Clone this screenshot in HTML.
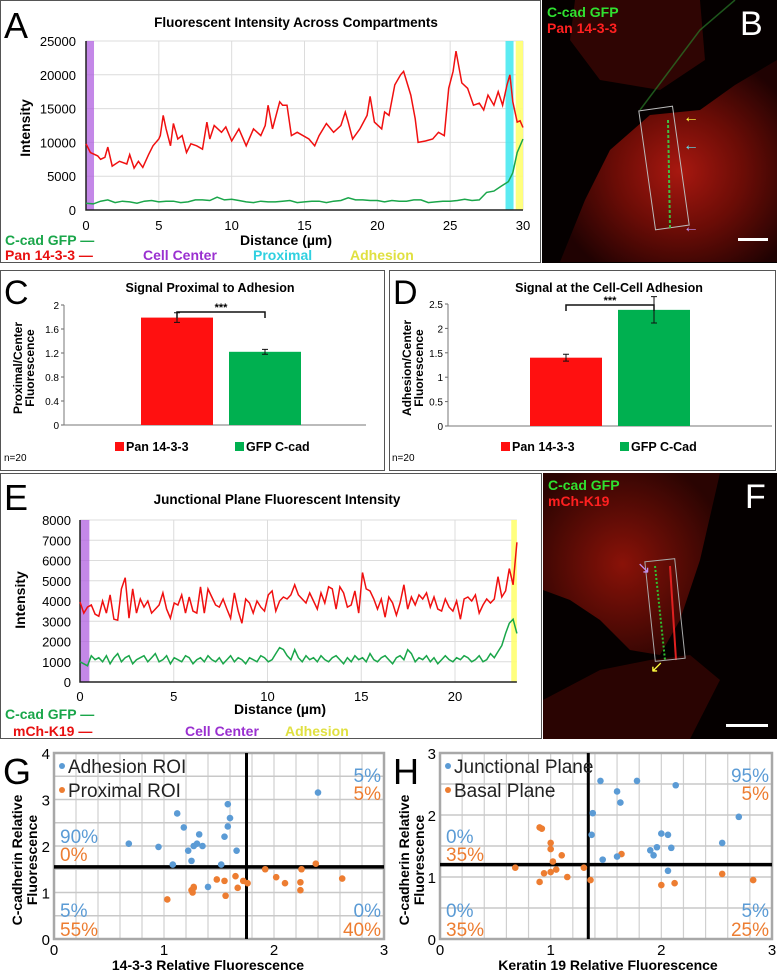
<!DOCTYPE html>
<html><head><meta charset="utf-8"><style>
html,body{margin:0;padding:0;background:#fff}
svg{display:block;font-family:"Liberation Sans",Arial,sans-serif}
.t{font-weight:bold}
</style></head><body>
<svg id="fig" width="777" height="973" viewBox="0 0 777 973" xmlns="http://www.w3.org/2000/svg">
<defs>
<radialGradient id="gB" cx="55%" cy="55%" r="60%"><stop offset="0" stop-color="#a81810"/><stop offset="0.5" stop-color="#6a0c06"/><stop offset="1" stop-color="#200202"/></radialGradient>
<radialGradient id="gF" cx="45%" cy="50%" r="60%"><stop offset="0" stop-color="#8a1208"/><stop offset="1" stop-color="#2a0402"/></radialGradient>
</defs>
<!-- Panel A -->
<rect x="0.5" y="0.5" width="540" height="262" fill="#fff" stroke="#555"/>
<text x="4" y="38" font-size="36">A</text>
<text x="296" y="27" font-size="13.5" class="t" text-anchor="middle">Fluorescent Intensity Across Compartments</text>
<g id="gA"></g>
<text transform="translate(30,128) rotate(-90)" font-size="14" class="t" text-anchor="middle">Intensity</text>
<text x="286" y="245" font-size="14" class="t" text-anchor="middle">Distance (µm)</text>
<text x="5" y="245" font-size="14" class="t" fill="#1aa64a">C-cad GFP —</text>
<text x="5" y="260" font-size="14" class="t" fill="#e81010">Pan 14-3-3 —</text>
<text x="143" y="260" font-size="14" class="t" fill="#9a30d0">Cell Center</text>
<text x="253" y="260" font-size="14" class="t" fill="#30d0e0">Proximal</text>
<text x="350" y="260" font-size="14" class="t" fill="#e0e040">Adhesion</text>
<!-- Panel B -->
<g>
<rect x="542" y="0" width="235" height="263" fill="#050000"/>
<path d="M560,262 L585,200 L610,150 L650,115 L700,110 L735,85 L777,60 L777,262 Z" fill="url(#gB)"/>
<path d="M575,0 L700,0 L705,60 L660,90 L600,80 L570,40 Z" fill="#3a0604" opacity="0.8"/>
<path d="M640,110 L700,30 L735,0" stroke="#2a7a28" stroke-width="1.5" fill="none" opacity="0.7"/>
<rect x="647" y="108" width="34" height="120" fill="none" stroke="#bbb" stroke-width="1" transform="rotate(-8 664 168)"/>
<path d="M668,120 L670,228" stroke="#40c040" stroke-width="2" stroke-dasharray="3,2"/>
<text x="547" y="17" font-size="14" class="t" fill="#30e030">C-cad GFP</text>
<text x="547" y="33" font-size="14" class="t" fill="#ff2020">Pan 14-3-3</text>
<text x="740" y="35" font-size="34" fill="#fff">B</text>
<text x="683" y="122" font-size="16" fill="#ffff40">←</text>
<text x="683" y="150" font-size="16" fill="#60e0f0">←</text>
<text x="683" y="232" font-size="16" fill="#c090f0">←</text>
<rect x="738" y="238" width="30" height="3" fill="#fff"/>
</g>
<!-- Panel C -->
<rect x="0.5" y="270.5" width="384" height="200" fill="#fff" stroke="#555"/>
<text x="4" y="304" font-size="34">C</text>
<text x="210" y="292" font-size="12.5" class="t" text-anchor="middle">Signal Proximal to Adhesion</text>
<g id="gC"></g>
<text transform="translate(22,368) rotate(-90)" font-size="12" class="t" text-anchor="middle">Proximal/Center</text>
<text transform="translate(34,368) rotate(-90)" font-size="12" class="t" text-anchor="middle">Fluorescence</text>
<rect x="115" y="442" width="9" height="9" fill="#ff1010"/>
<text x="126" y="451" font-size="12.5" class="t">Pan 14-3-3</text>
<rect x="235" y="442" width="9" height="9" fill="#00b050"/>
<text x="246" y="451" font-size="12.5" class="t">GFP C-cad</text>
<text x="4" y="461" font-size="10">n=20</text>
<!-- Panel D -->
<rect x="389.5" y="270.5" width="386" height="200" fill="#fff" stroke="#555"/>
<text x="393" y="304" font-size="34">D</text>
<text x="609" y="292" font-size="12.5" class="t" text-anchor="middle">Signal at the Cell-Cell Adhesion</text>
<g id="gD"></g>
<text transform="translate(411,368) rotate(-90)" font-size="12" class="t" text-anchor="middle">Adhesion/Center</text>
<text transform="translate(423,368) rotate(-90)" font-size="12" class="t" text-anchor="middle">Fluorescence</text>
<rect x="501" y="442" width="9" height="9" fill="#ff1010"/>
<text x="512" y="451" font-size="12.5" class="t">Pan 14-3-3</text>
<rect x="620" y="442" width="9" height="9" fill="#00b050"/>
<text x="631" y="451" font-size="12.5" class="t">GFP C-Cad</text>
<text x="392" y="461" font-size="10">n=20</text>
<!-- Panel E -->
<rect x="0.5" y="473.5" width="541" height="265" fill="#fff" stroke="#555"/>
<text x="4" y="510" font-size="36">E</text>
<text x="277" y="504" font-size="13.5" class="t" text-anchor="middle">Junctional Plane Fluorescent Intensity</text>
<g id="gE"></g>
<text transform="translate(25,600) rotate(-90)" font-size="14" class="t" text-anchor="middle">Intensity</text>
<text x="280" y="714" font-size="14" class="t" text-anchor="middle">Distance (µm)</text>
<text x="5" y="719" font-size="14" class="t" fill="#1aa64a">C-cad GFP —</text>
<text x="13" y="736" font-size="14" class="t" fill="#e81010">mCh-K19 —</text>
<text x="185" y="736" font-size="14" class="t" fill="#9a30d0">Cell Center</text>
<text x="285" y="736" font-size="14" class="t" fill="#e0e040">Adhesion</text>
<!-- Panel F -->
<g>
<rect x="543" y="473" width="234" height="266" fill="#050000"/>
<path d="M543,473 L720,473 L700,560 L680,620 L660,655 L630,650 L600,620 L570,600 L543,590 Z" fill="url(#gF)"/>
<path d="M543,700 L600,670 L650,660 L690,655 L720,680 L690,739 L543,739 Z" fill="#2a0402"/>
<path d="M655,566 L665,660" stroke="#30c030" stroke-width="2" stroke-dasharray="2,2"/>
<path d="M670,566 L676,660" stroke="#e02020" stroke-width="2"/>
<rect x="650" y="560" width="30" height="100" fill="none" stroke="#aaa" transform="rotate(-6 665 610)"/>
<text x="548" y="490" font-size="14" class="t" fill="#30e030">C-cad GFP</text>
<text x="548" y="506" font-size="14" class="t" fill="#ff2020">mCh-K19</text>
<text x="745" y="508" font-size="34" fill="#fff">F</text>
<text x="637" y="573" font-size="16" fill="#c090f0">↘</text>
<text x="650" y="672" font-size="16" fill="#ffff40">↙</text>
<rect x="726" y="724" width="42" height="3" fill="#fff"/>
</g>
<!-- Panel G -->
<text x="3" y="784" font-size="36">G</text>
<g id="gG"></g>
<text transform="translate(22,860) rotate(-90)" font-size="14" class="t" text-anchor="middle">C-cadherin Relative</text>
<text transform="translate(37,860) rotate(-90)" font-size="14" class="t" text-anchor="middle">Fluorescence</text>
<text x="208" y="970" font-size="14" class="t" text-anchor="middle">14-3-3 Relative Fluorescence</text>
<!-- Panel H -->
<text x="393" y="784" font-size="36">H</text>
<g id="gH"></g>
<text transform="translate(409,860) rotate(-90)" font-size="14" class="t" text-anchor="middle">C-cadherin Relative</text>
<text transform="translate(424,860) rotate(-90)" font-size="14" class="t" text-anchor="middle">Fluorescence</text>
<text x="608" y="970" font-size="14" class="t" text-anchor="middle">Keratin 19 Relative Fluorescence</text>
</svg>
<script>
// ---- Panel A data ----
const aRedX = [0,0.3,0.8,1,1.3,1.5,1.8,2.3,2.8,3,3.3,3.6,3.9,4.3,4.6,5,5.1,5.3,5.5,5.8,6,6.3,6.6,6.9,7.2,7.6,8,8.3,8.5,8.8,9.3,9.6,10,10.5,11,11.5,12,12.3,12.5,12.8,13.3,13.5,13.8,14.1,14.5,15.3,15.7,16,16.5,17,17.5,17.8,18,18.3,18.8,19.3,19.5,19.8,20.3,20.5,20.8,21.2,21.6,21.8,22.3,22.6,22.8,23.3,23.8,24.2,24.6,24.9,25.2,25.4,25.8,26.2,26.6,27,27.3,27.6,28,28.3,28.6,28.9,29.1,29.3,29.6,29.8,30];
const aRedY = [9800,8500,8000,7500,7800,9300,6500,7200,6800,8200,6200,7200,6300,8200,9500,10500,11000,14000,12000,9500,12800,10500,11000,8500,9800,9500,9000,13000,10500,12500,11500,12300,10200,12000,9500,12000,11000,12500,15500,12000,16000,15500,15500,11000,11500,10500,9500,11000,12800,11500,12500,14500,13000,10500,12000,14000,16800,13000,12000,14500,14000,18500,20000,20500,17000,13500,10000,10200,10500,11500,11000,18000,20500,23500,18800,18000,15500,15800,14800,17000,15500,17500,15500,18500,20000,16000,13000,13200,12200];
const aGreenX = [0,0.5,1,1.5,2,2.5,3,3.5,4,4.5,5,5.5,6,6.5,7,7.5,8,8.5,9,9.5,10,10.5,11,11.5,12,12.5,13,13.5,14,14.5,15,15.5,16,16.5,17,17.5,18,18.5,19,19.5,20,20.5,21,21.5,22,22.5,23,23.5,24,24.5,25,25.5,26,26.5,27,27.5,28,28.5,29,29.3,29.6,30];
const aGreenY = [1000,900,1300,1500,1100,1300,1200,1000,1300,1400,1200,1300,1300,1100,1200,1500,1500,1400,1900,1500,1600,1400,1200,1100,1300,1200,1200,1300,1400,1100,1200,1300,1300,1100,1300,1400,1800,1500,1500,1400,1400,1200,1400,1300,1300,1500,1500,1100,1200,1300,1300,1400,1600,1400,1500,2600,2800,3500,4200,5500,8500,10500];
const aXTicks = [0,5,10,15,20,25,30];
const aYTicks = [0,5000,10000,15000,20000,25000];
// ---- Panel C / D data ----
const cCats = ["Pan 14-3-3","GFP C-cad"];
const cVals = [1.79,1.22];
const cErr = [0.08,0.04];
const cTicks = [0,0.4,0.8,1.2,1.6,2];
const dCats = ["Pan 14-3-3","GFP C-Cad"];
const dVals = [1.4,2.38];
const dErr = [0.07,0.27];
const dTicks = [0,0.5,1,1.5,2,2.5];
// ---- Panel E data ----
const eRed = [3950,3400,3700,3800,3350,3250,4000,3400,4300,3100,3050,4600,5150,3150,4600,3400,4100,3700,4000,3400,3600,3800,4400,3600,3150,3900,3800,4300,3400,4200,3500,3400,4700,3400,4600,4200,3800,3700,4100,3600,3150,4400,3500,2900,4100,3900,3400,4000,3700,3500,4300,4500,3500,4000,4200,4100,4300,4800,4300,4100,3900,4400,4000,3600,4400,3900,4700,4600,3600,4700,4400,3700,3800,4500,3400,5400,4600,4500,4100,3600,4100,3200,4200,3900,3300,3900,4800,3600,4200,3800,4300,4100,4400,3700,4200,3600,3500,4100,3700,3500,4000,3100,4100,4200,4000,4300,3400,3800,4100,3900,4100,5200,4200,4500,5600,4800,6900];
const eGreen = [1000,900,800,1300,1100,1200,1000,1300,900,1200,1400,1000,1200,1300,900,1100,1200,1300,1000,1200,1400,1000,1100,1300,900,1200,1100,1000,1300,1200,900,1100,1200,1000,1300,1100,1000,1200,900,1100,1300,1000,1200,1100,900,1200,1100,1000,1300,1200,1000,1100,1400,1700,1600,1300,1100,1600,1200,1000,1300,1100,1200,1000,1300,1100,1000,1200,1300,1100,900,1200,1000,1300,1100,1200,1000,1400,1100,1000,1200,1300,1100,900,1200,1300,1100,1600,1400,1000,1200,1100,1300,1000,1200,900,1100,1300,1100,1000,1200,1100,1300,1200,1000,1100,1300,1000,1100,1400,1200,1500,1800,2400,2900,3100,2400];
const eXMax = 23.3;
const eXTicks = [0,5,10,15,20];
const eYTicks = [0,1000,2000,3000,4000,5000,6000,7000,8000];
// ---- Panel G data ----
const gBlueX = [0.68,0.95,1.12,1.18,1.22,1.25,1.27,1.30,1.32,1.35,1.08,1.40,1.52,1.55,1.58,1.58,1.60,1.66,2.40];
const gBlueY = [2.05,1.98,2.70,2.40,1.90,1.68,2.00,2.05,2.25,2.00,1.60,1.12,1.60,2.20,2.90,2.42,2.60,1.90,3.15];
const gOrX = [1.03,1.25,1.26,1.27,1.27,1.48,1.55,1.56,1.65,1.67,1.72,1.76,1.92,2.02,2.10,2.24,2.24,2.25,2.38,2.62];
const gOrY = [0.85,1.05,1.00,1.10,1.12,1.28,1.25,0.93,1.35,1.10,1.25,1.20,1.50,1.33,1.20,1.22,1.05,1.50,1.62,1.30];
const gXTicks = [0,1,2,3];
const gYTicks = [0,1,2,3,4];
const gThresh = [1.75,1.55];
// ---- Panel H data ----
const hBlueX = [1.45,1.78,2.13,1.60,1.63,1.38,2.70,1.37,2.00,2.06,2.55,1.90,1.93,1.96,2.09,1.60,1.47,2.06];
const hBlueY = [2.55,2.55,2.48,2.38,2.20,2.03,1.97,1.68,1.70,1.68,1.55,1.43,1.35,1.48,1.47,1.33,1.28,1.10];
const hOrX = [0.90,0.92,1.00,1.00,1.10,1.64,1.02,0.68,1.05,0.94,1.00,1.15,0.90,1.30,1.36,2.00,2.12,2.55,2.83];
const hOrY = [1.80,1.78,1.55,1.45,1.35,1.37,1.25,1.15,1.12,1.06,1.08,1.00,0.92,1.15,0.95,0.87,0.90,1.05,0.95];
const hXTicks = [0,1,2,3];
const hYTicks = [0,1,2,3];
const hThresh = [1.34,1.2];

const NS = "http://www.w3.org/2000/svg";
function mk(parent, tag, attrs, txt){
  const el = document.createElementNS(NS, tag);
  for (const k in attrs) el.setAttribute(k, attrs[k]);
  if (txt !== undefined) el.textContent = txt;
  parent.appendChild(el);
  return el;
}
function pathD(xs, ys, fx, fy){
  return xs.map((x,i)=>(i?"L":"M")+fx(x).toFixed(1)+","+fy(ys[i]).toFixed(1)).join("");
}

// ===== Panel A =====
(function(){
  const g = document.getElementById("gA");
  const x = v => 86 + v*(523-86)/30;
  const y = v => 210 - v*169/25000;
  aYTicks.forEach(t=>{
    const l = mk(g,"line",{x1:x(0),x2:x(30),y1:y(t),y2:y(t),stroke:"#dcdcdc"});
    
    
    const tx = mk(g,"text",{x:76,y:y(t)+5,"font-size":13,"text-anchor":"end"},String(t));
    
    
  });
  aXTicks.forEach(t=>{
    const l = mk(g,"line",{x1:x(t),x2:x(t),y1:y(0),y2:y(25000),stroke:"#dcdcdc"});
    
    
    const tx = mk(g,"text",{x:x(t),y:230,"font-size":13,"text-anchor":"middle"},String(t));
    
    
  });
  const b1 = mk(g,"rect",{x:x(0),y:y(25000),width:x(0.55)-x(0),height:169,fill:"#b060e0",opacity:0.75});
  
  
  const b2 = mk(g,"rect",{x:x(28.8),y:y(25000),width:x(29.35)-x(28.8),height:169,fill:"#40e8f0",opacity:0.85});
  
  
  const b3 = mk(g,"rect",{x:x(29.5),y:y(25000),width:x(30)-x(29.5),height:169,fill:"#ffff70",opacity:0.9});
  
  
  const ax = mk(g,"path",{d:`M${x(0)},${y(25000)}V${y(0)}H${x(30)}`,stroke:"#222","stroke-width":1.5,fill:"none"});
  
  
  const r = mk(g,"path",{d:pathD(aRedX,aRedY,x,y),stroke:"#f01010","stroke-width":1.5,fill:"none"});
  
  
  const gr = mk(g,"path",{d:pathD(aGreenX,aGreenY,x,y),stroke:"#1aa64a","stroke-width":1.5,fill:"none"});
  
  
})();

// ===== Bar panels C and D =====
function bars(gid, cats, vals, errs, ticks, x0, x1, bx, yTop, yBot, brY){
  const g = document.getElementById(gid);
  const max = ticks[ticks.length-1];
  const y = v => yBot - v*(yBot-yTop)/max;
  ticks.forEach(t=>{
    const tx = mk(g,"text",{x:x0-5,y:y(t)+4,"font-size":10,"text-anchor":"end"},String(t));
    
    
    const tk = mk(g,"line",{x1:x0-3,x2:x0,y1:y(t),y2:y(t),stroke:"#666"});
    
    
  });
  const ax = mk(g,"path",{d:`M${x0},${yTop}V${yBot}H${x1}`,stroke:"#777",fill:"none"});
  
  
  const cols = ["#ff1010","#00b050"];
  const cx = [];
  vals.forEach((v,i)=>{
    const r = mk(g,"rect",{x:bx[i],y:y(v),width:72,height:yBot-y(v),fill:cols[i]});
    
    
    const c = bx[i]+36; cx.push(c);
    const e = mk(g,"path",{d:`M${c},${y(v+errs[i])}V${y(v-errs[i])}M${c-3},${y(v+errs[i])}H${c+3}M${c-3},${y(v-errs[i])}H${c+3}`,stroke:"#111","stroke-width":1,fill:"none"});
    
    
  });
  const br = mk(g,"path",{d:`M${cx[0]},${brY+6}V${brY}H${cx[1]}V${brY+6}`,stroke:"#111","stroke-width":1.5,fill:"none"});
  
  
  const st = mk(g,"text",{x:(cx[0]+cx[1])/2,y:brY-1,"font-size":11,"text-anchor":"middle","font-weight":"bold"},"***");
  
  
}
bars("gC", cCats, cVals, cErr, cTicks, 64, 366, [141,229], 305, 425, 312);
bars("gD", dCats, dVals, dErr, dTicks, 448, 772, [530,618], 304, 426, 305);

// ===== Panel E =====
(function(){
  const g = document.getElementById("gE");
  const x = v => 80 + v*18.75;
  const y = v => 682 - v*0.02025;
  eYTicks.forEach(t=>{
    const l = mk(g,"line",{x1:x(0),x2:x(eXMax),y1:y(t),y2:y(t),stroke:"#dcdcdc"});
    
    
    const tx = mk(g,"text",{x:71,y:y(t)+5,"font-size":13,"text-anchor":"end"},String(t));
    
    
  });
  eXTicks.forEach(t=>{
    const l = mk(g,"line",{x1:x(t),x2:x(t),y1:y(0),y2:y(8000),stroke:"#dcdcdc"});
    
    
    const tx = mk(g,"text",{x:x(t),y:701,"font-size":13,"text-anchor":"middle"},String(t));
    
    
  });
  const b1 = mk(g,"rect",{x:x(0),y:y(8000),width:x(0.5)-x(0),height:162,fill:"#b060e0",opacity:0.75});
  
  
  const b2 = mk(g,"rect",{x:x(23),y:y(8000),width:x(eXMax)-x(23),height:162,fill:"#ffff70",opacity:0.9});
  
  
  const ax = mk(g,"path",{d:`M${x(0)},${y(8000)}V${y(0)}H${x(eXMax)}`,stroke:"#222","stroke-width":1.5,fill:"none"});
  
  
  const rx = eRed.map((_,i)=>i*eXMax/(eRed.length-1));
  const gx = eGreen.map((_,i)=>i*eXMax/(eGreen.length-1));
  const r = mk(g,"path",{d:pathD(rx,eRed,x,y),stroke:"#f01010","stroke-width":1.5,fill:"none"});
  
  
  const gr = mk(g,"path",{d:pathD(gx,eGreen,x,y),stroke:"#1aa64a","stroke-width":1.5,fill:"none"});
  
  
})();

// ===== Scatter panels G and H =====
function scatter(gid, x0, x1, yTop, yBot, xMax, yMax, xT, yT, bx, by, ox, oy, th, legs, pcts){
  const g = document.getElementById(gid);
  const x = v => x0 + v*(x1-x0)/xMax;
  const y = v => yBot - v*(yBot-yTop)/yMax;
  for (let v=0.2; v<xMax-0.01; v+=0.2){
    const l = mk(g,"line",{x1:x(v),x2:x(v),y1:yTop,y2:yBot,stroke:"#d0d0d0","stroke-width":1.2});
    
    
  }
  for (let v=0.5; v<yMax-0.01; v+=0.5){
    const l = mk(g,"line",{x1:x0,x2:x1,y1:y(v),y2:y(v),stroke:"#c8c8c8","stroke-width":1.5});
    
    
  }
  const fr = mk(g,"rect",{x:x0,y:yTop,width:x1-x0,height:yBot-yTop,fill:"none",stroke:"#a8a8a8","stroke-width":2.5});
  
  
  xT.forEach(t=>{
    const tx = mk(g,"text",{x:x(t),y:955,"font-size":15,"text-anchor":"middle"},String(t));
    
    
  });
  yT.forEach(t=>{
    const tx = mk(g,"text",{x:x0-4,y:y(t)+6,"font-size":15,"text-anchor":"end"},String(t));
    
    
  });
  const vl = mk(g,"line",{x1:x(th[0]),x2:x(th[0]),y1:yTop,y2:yBot,stroke:"#000","stroke-width":3});
  
  
  const hl = mk(g,"line",{x1:x0,x2:x1,y1:y(th[1]),y2:y(th[1]),stroke:"#000","stroke-width":3.5});
  
  
  ox.forEach((v,i)=>{
    const c = mk(g,"circle",{cx:x(v),cy:y(oy[i]),r:3.3,fill:"#ed7d31"});
    
    
  });
  bx.forEach((v,i)=>{
    const c = mk(g,"circle",{cx:x(v),cy:y(by[i]),r:3.3,fill:"#5b9bd5"});
    
    
  });
  const lc1 = mk(g,"circle",{cx:x0+8,cy:766,r:3,fill:"#5b9bd5"});
  
  
  const lt1 = mk(g,"text",{x:x0+14,y:773,"font-size":19,fill:"#222"},legs[0]);
  
  
  const lc2 = mk(g,"circle",{cx:x0+8,cy:790,r:3,fill:"#ed7d31"});
  
  
  const lt2 = mk(g,"text",{x:x0+14,y:797,"font-size":19,fill:"#222"},legs[1]);
  
  
  const pos = [[x0+6,843,"start"],[x0+6,861,"start"],[x1-3,782,"end"],[x1-3,800,"end"],[x0+6,917,"start"],[x0+6,936,"start"],[x1-3,917,"end"],[x1-3,936,"end"]];
  pcts.forEach((p,i)=>{
    const t = mk(g,"text",{x:pos[i][0],y:pos[i][1],"font-size":19,"text-anchor":pos[i][2],fill:i%2?"#ed7d31":"#5b9bd5"},p);
    
    
  });
}
scatter("gG", 54, 384, 753, 939, 3, 4, gXTicks, gYTicks, gBlueX, gBlueY, gOrX, gOrY, gThresh, ["Adhesion ROI","Proximal ROI"], ["90%","0%","5%","5%","5%","55%","0%","40%"]);
scatter("gH", 440, 772, 753, 939, 3, 3, hXTicks, hYTicks, hBlueX, hBlueY, hOrX, hOrY, hThresh, ["Junctional Plane","Basal Plane"], ["0%","35%","95%","5%","0%","35%","5%","25%"]);
</script>
</body></html>
